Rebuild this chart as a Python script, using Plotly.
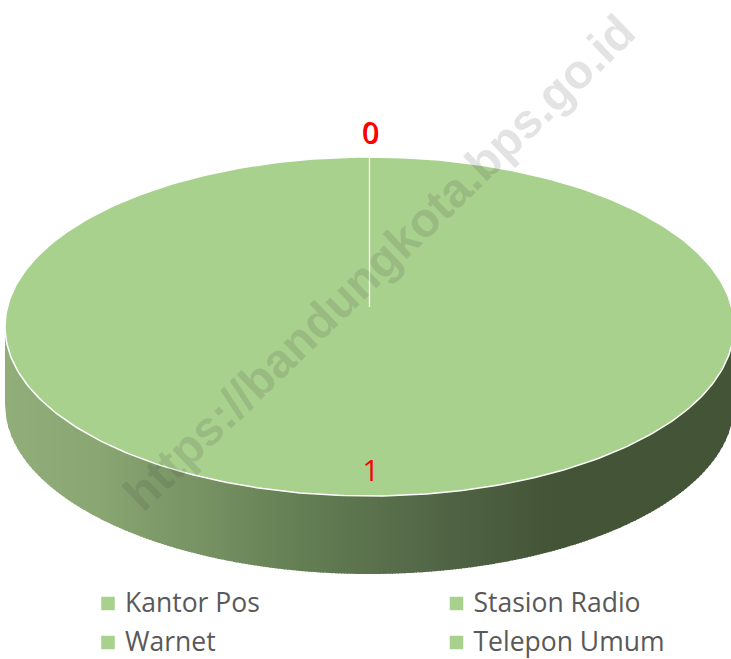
import numpy as np
import plotly.graph_objects as go

categories = ["Kantor Pos", "Stasion Radio", "Warnet", "Telepon Umum"]
values = [0, 0, 0, 1]
watermark = "https://bandungkota.bps.go.id"

W, H = 731, 659
CX, CY, RX, RY, DEPTH = 369.5, 326.5, 364.5, 169.5, 78
GREEN = "#a9d18e"
RED = "#ff0000"
LEG_X = [108, 456.5]
LEG_Y = [603.5, 642.5]
LEG_TXT_DX = 17
LEG_TXT_DY = 2
LABEL_DX, LABEL_DY = 1.2, 3

GRAD = [(0, (146, 174, 122)), (100, (138, 166, 114)), (300, (101, 127, 85)),
        (450, (80, 100, 69)), (560, (68, 84, 54)), (731, (68, 84, 54))]


def wall_color(x):
    xs = [g[0] for g in GRAD]
    return "rgb(%d,%d,%d)" % tuple(np.interp(x, xs, [g[1][i] for g in GRAD]) for i in range(3))


def pt(theta, r=1.0):
    # theta measured clockwise from 12 o'clock, as pie slices are
    return CX + RX * r * np.sin(theta), CY - RY * r * np.cos(theta)


fig = go.Figure()

# side wall, as thin vertical strips under the front half of the rim
step = 3
for x0 in np.arange(CX - RX, CX + RX, step):
    xs = np.linspace(x0, min(x0 + step + 1, CX + RX), 4)
    top = CY + RY * np.sqrt(np.clip(1 - ((xs - CX) / RX) ** 2, 0, 1))
    fig.add_trace(go.Scatter(
        x=np.r_[xs, xs[::-1]], y=np.r_[top - 3, (top + DEPTH)[::-1]],
        mode="lines", fill="toself", fillcolor=wall_color(x0 + step / 2),
        line=dict(width=0), hoverinfo="skip", showlegend=False))

# top face, from the cumulative shares
total = sum(values)
angles = np.r_[0, np.cumsum(values)] / total * 2 * np.pi
for i, cat in enumerate(categories):
    a0, a1 = angles[i], angles[i + 1]
    if a1 <= a0:
        continue
    th = np.linspace(a0, a1, 361)
    px, py = pt(th)
    fig.add_trace(go.Scatter(x=px, y=py, mode="lines", fill="toself", fillcolor=GREEN,
                             line=dict(color="white", width=1.5), name=cat,
                             hoverinfo="skip", showlegend=False))

# slice boundary
lx, ly = zip(pt(angles[0], 0.115), pt(angles[0], 1.0))
fig.add_trace(go.Scatter(x=lx, y=ly, mode="lines", line=dict(color="white", width=1.3),
                         hoverinfo="skip", showlegend=False))

# value labels (the zero labels sit almost on top of each other)
for i, v in enumerate(values):
    mid = (angles[i] + angles[i + 1]) / 2
    px, py = pt(mid, 1.14 if v == 0 else 0.85)
    nudge = (i - 1) * 0.7 if v == 0 else 0
    fig.add_trace(go.Scatter(x=[px + nudge + LABEL_DX], y=[py + nudge + LABEL_DY], mode="text",
                             text=[str(v)], textposition="middle center",
                             textfont=dict(family="Open Sans", size=29, color=RED),
                             hoverinfo="skip", showlegend=False))

# legend, two by two
for i, cat in enumerate(categories):
    x, y = LEG_X[i % 2], LEG_Y[i // 2]
    fig.add_trace(go.Scatter(x=[x], y=[y], mode="markers",
                             marker=dict(symbol="square", size=13.5, color=GREEN, line=dict(width=0)),
                             hoverinfo="skip", showlegend=False))
    fig.add_trace(go.Scatter(x=[x + LEG_TXT_DX], y=[y + LEG_TXT_DY], mode="text", text=[cat],
                             textposition="middle right",
                             textfont=dict(family="Open Sans", size=26.5, color="#595959"),
                             hoverinfo="skip", showlegend=False))

fig.add_annotation(x=379, y=262, xref="x", yref="y", text="<b>%s</b>" % watermark,
                   textangle=-44, showarrow=False,
                   font=dict(family="Liberation Sans", size=48, color="rgba(70,70,70,0.15)"))

fig.update_layout(
    width=W, height=H, margin=dict(l=0, r=0, t=0, b=0),
    paper_bgcolor="white", plot_bgcolor="white", showlegend=False,
    xaxis=dict(range=[0, W], visible=False, fixedrange=True),
    yaxis=dict(range=[H, 0], visible=False, fixedrange=True),
)
fig.write_html("out.html", config={"displayModeBar": False},
               post_script="document.body.style.margin='0';document.body.style.overflow='hidden';")
